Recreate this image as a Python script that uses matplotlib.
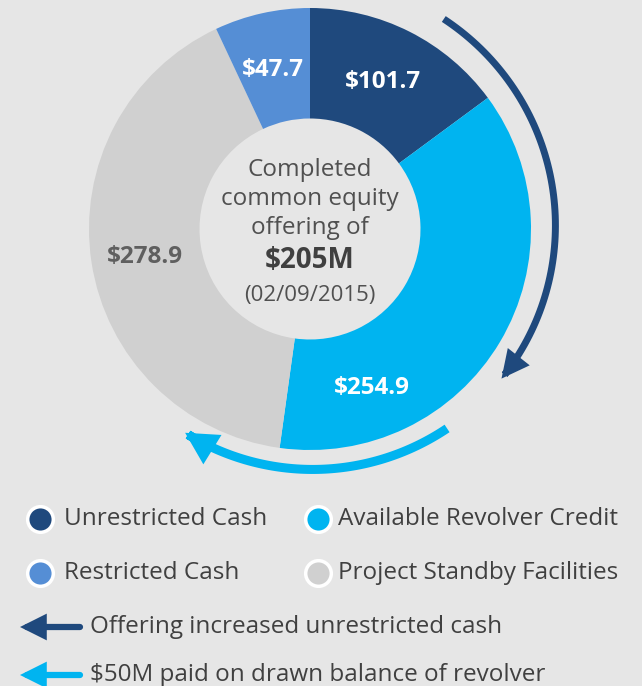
import numpy as np
import matplotlib
matplotlib.use('Agg')
from matplotlib import pyplot as plt
from matplotlib.patches import FancyArrowPatch
from matplotlib.path import Path

plt.rcParams['font.family'] = ['Open Sans', 'DejaVu Sans']

# slices, clockwise from 12 o'clock
names = ['Unrestricted Cash', 'Available Revolver Credit',
         'Project Standby Facilities', 'Restricted Cash']
values = [101.7, 254.9, 278.9, 47.7]
colors = ['#1f497d', '#00b4f0', '#d0d0d0', '#558ed5']
label_colors = ['white', 'white', '#5f5f5f', 'white']
label_pos = [(383, 82), (372, 388), (145, 257), (273, 70)]

legend_names = ['Unrestricted Cash', 'Available Revolver Credit',
                'Restricted Cash', 'Project Standby Facilities']
legend_colors = ['#1f497d', '#00b4f0', '#558ed5', '#d0d0d0']
arrow_texts = ['Offering increased unrestricted cash',
               '$50M paid on drawn balance of revolver']
arrow_colors = ['#1f497d', '#00b4f0']

center_lines = ['Completed', 'common equity', 'offering of']
center_amount = '$205M'
center_date = '(02/09/2015)'

W, H = 642, 686
bg = '#e6e6e6'
cx, cy, R = 310, H - 229, 221


def py(y):
    # image pixel row -> axes y
    return H - y


fig = plt.figure(figsize=(W / 100, H / 100), dpi=100, facecolor=bg)
ax = fig.add_axes([0, 0, 1, 1])
ax.set_facecolor(bg)

ax.pie(values, colors=colors, startangle=90, counterclock=False,
       center=(cx, cy), radius=R,
       wedgeprops=dict(width=R * 0.5, edgecolor='none'))
ax.set_xlim(0, W)
ax.set_ylim(0, H)
ax.set_aspect('auto')
ax.axis('off')

for v, c, (x, y) in zip(values, label_colors, label_pos):
    ax.text(x, py(y), f'${v}', color=c, fontsize=17.5, fontweight='bold',
            ha='center', va='center')

# centre text
text_c = '#505050'
for i, s in enumerate(center_lines):
    ax.text(cx, py(170 + i * 29), s, color=text_c, fontsize=17.5,
            ha='center', va='center')
ax.text(cx, py(261), center_amount, color='#404040', fontsize=20,
        fontweight='bold', ha='center', va='center')
ax.text(cx, py(295), center_date, color=text_c, fontsize=16,
        ha='center', va='center')


# curved arrows around the ring
def arc_arrow(r0, r1, a0, a1, color, lw, hl, hw):
    t = np.linspace(a0, a1, 80)
    r = np.linspace(r0, r1, 80)
    verts = np.column_stack([cx + r * np.cos(np.radians(t)),
                             cy + r * np.sin(np.radians(t))])
    p = FancyArrowPatch(path=Path(verts),
                        arrowstyle=f'-|>,head_length={hl},head_width={hw}',
                        color=color, lw=lw, mutation_scale=10,
                        joinstyle='miter', capstyle='butt')
    ax.add_patch(p)


arc_arrow(249, 243, 57.5, -38, arrow_colors[0], 5, 1.2, 0.6)
arc_arrow(242, 239, -55.5, -121.5, arrow_colors[1], 6.5, 1.3, 0.7)

# legend
rows = [519, 573]
cols = [(40, 64), (318, 338)]
for i, (n, c) in enumerate(zip(legend_names, legend_colors)):
    r, k = divmod(i, 2)
    mx, tx = cols[k]
    ax.scatter([mx], [py(rows[r])], s=340, color=c, edgecolors='white',
               linewidths=2.5, zorder=3)
    ax.text(tx, py(rows[r]), n, color='#404040', fontsize=17.5,
            ha='left', va='center')

for i, (s, c) in enumerate(zip(arrow_texts, arrow_colors)):
    y = py(627 + i * 48)
    ax.annotate('', xy=(20, y), xytext=(80, y),
                arrowprops=dict(arrowstyle='-|>,head_length=1.2,head_width=0.6',
                                color=c, lw=4.5, mutation_scale=10,
                                shrinkA=0, shrinkB=0, joinstyle='miter'))
    ax.text(90, y, s, color='#404040', fontsize=17.5, ha='left', va='center')

fig.savefig('out.png', dpi=100, facecolor=bg)
